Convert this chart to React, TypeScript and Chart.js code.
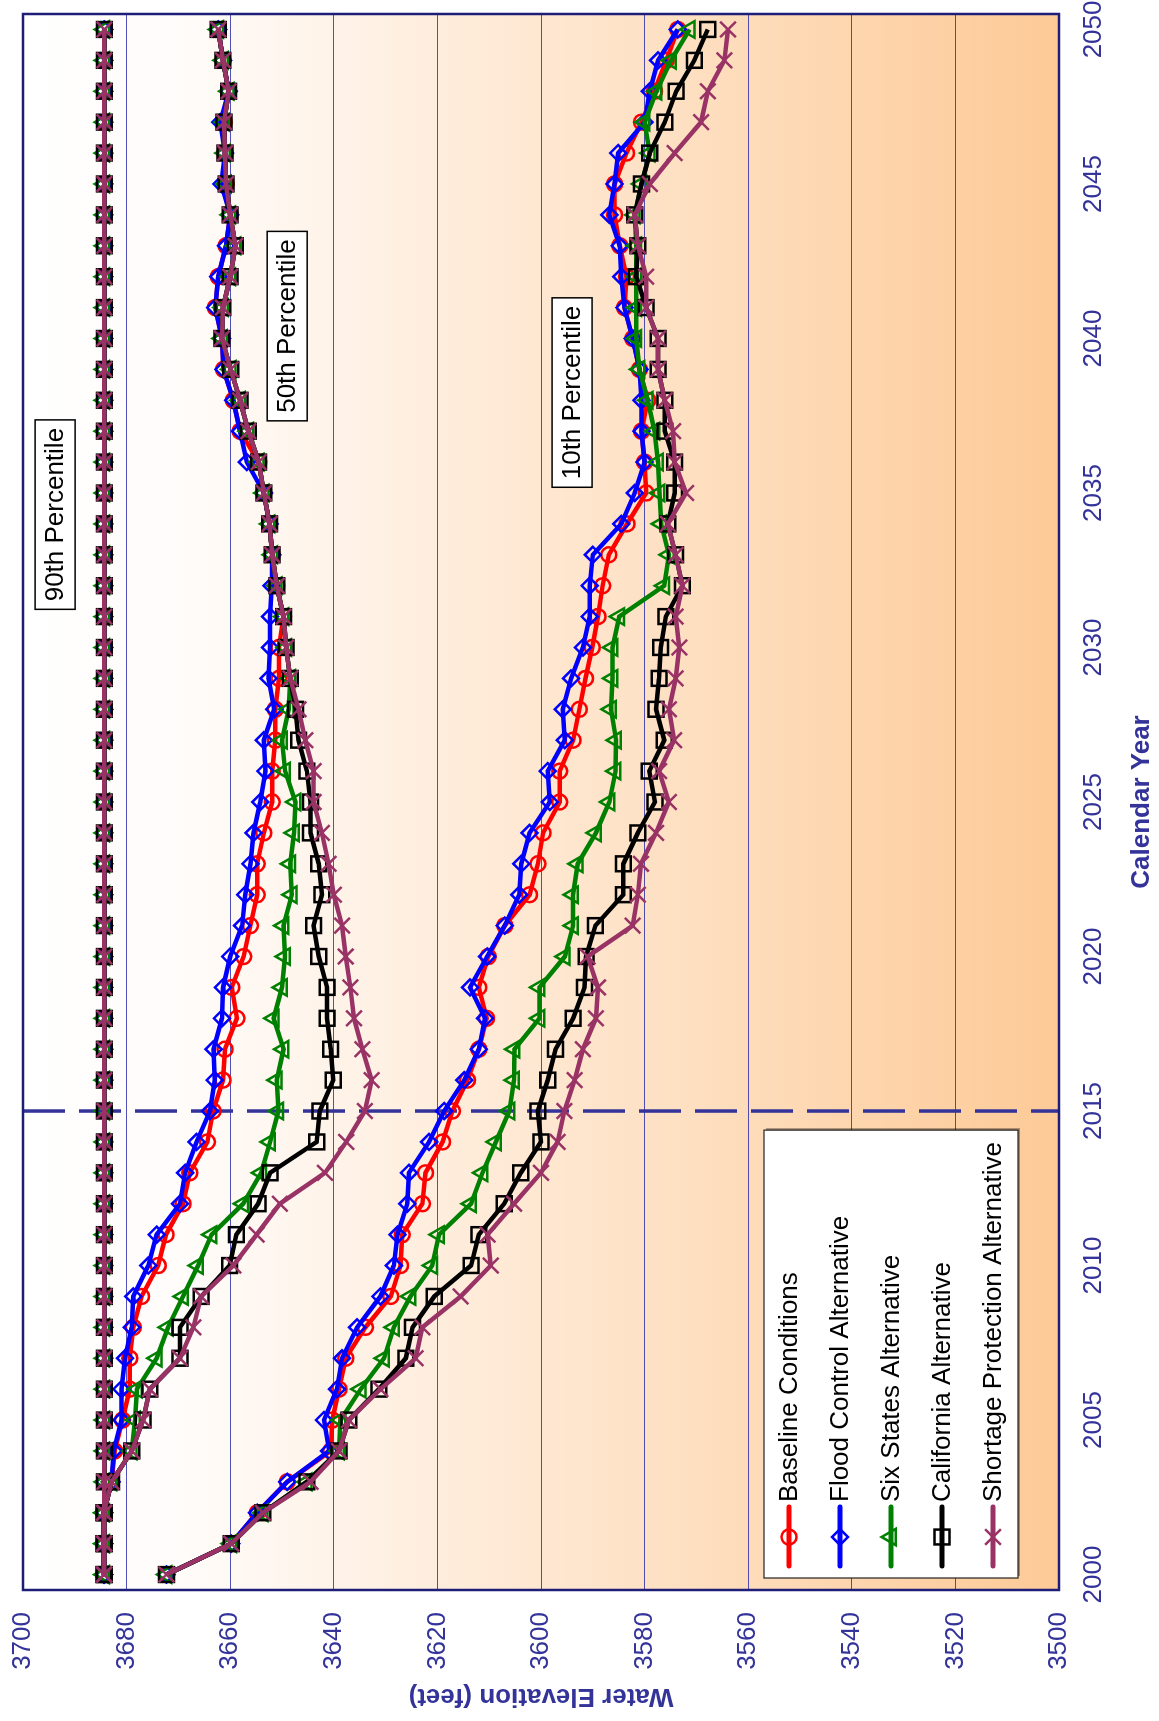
import { useEffect, useRef } from 'react';
import Chart from 'chart.js/auto';

// ---------------- DATA ----------------
const years = [
  2000, 2001, 2002, 2003, 2004, 2005, 2006, 2007, 2008, 2009,
  2010, 2011, 2012, 2013, 2014, 2015, 2016, 2017, 2018, 2019,
  2020, 2021, 2022, 2023, 2024, 2025, 2026, 2027, 2028, 2029,
  2030, 2031, 2032, 2033, 2034, 2035, 2036, 2037, 2038, 2039,
  2040, 2041, 2042, 2043, 2044, 2045, 2046, 2047, 2048, 2049, 2050,
];
const xTickYears = [2000, 2005, 2010, 2015, 2020, 2025, 2030, 2035, 2040, 2045, 2050];
const yTickValues = [3500, 3520, 3540, 3560, 3580, 3600, 3620, 3640, 3660, 3680, 3700];
const seriesNames = [
  'Baseline Conditions',
  'Flood Control Alternative',
  'Six States Alternative',
  'California Alternative',
  'Shortage Protection Alternative',
];
const percentileLabels = ['90th Percentile', '50th Percentile', '10th Percentile'];
const xAxisTitle = 'Calendar Year';
const yAxisTitle = 'Water Elevation (feet)';
const dividerYear = 2015;

// 90th percentile (identical for all alternatives)
const p90Elevation = [
  3684.3, 3684.3, 3684.3, 3684.3, 3684.3, 3684.3, 3684.3, 3684.3, 3684.3, 3684.3,
  3684.3, 3684.3, 3684.3, 3684.3, 3684.3, 3684.3, 3684.3, 3684.3, 3684.3, 3684.3,
  3684.3, 3684.3, 3684.3, 3684.3, 3684.3, 3684.3, 3684.3, 3684.3, 3684.3, 3684.3,
  3684.3, 3684.3, 3684.3, 3684.3, 3684.3, 3684.3, 3684.3, 3684.3, 3684.3, 3684.3,
  3684.3, 3684.3, 3684.3, 3684.3, 3684.3, 3684.3, 3684.3, 3684.3, 3684.3, 3684.3, 3684.3,
];

// 50th percentile
const baseline50 = [
  3684.4, 3684.4, 3684.4, 3682.9, 3682.3, 3680.8, 3679.4, 3679.4, 3678.7, 3677.1,
  3673.9, 3672.4, 3669.1, 3667.8, 3664.4, 3663.3, 3661.4, 3661.0, 3658.7, 3659.7,
  3657.4, 3656.1, 3654.8, 3654.8, 3653.5, 3651.9, 3651.9, 3651.3, 3651.3, 3650.6,
  3650.6, 3649.7, 3651.0, 3651.9, 3652.4, 3653.5, 3654.5, 3658.1, 3659.4, 3661.3,
  3661.6, 3662.9, 3662.3, 3660.8, 3660.0, 3660.8, 3661.0, 3661.2, 3660.3, 3661.4, 3662.3,
];
const flood50 = [
  3684.4, 3684.4, 3684.4, 3682.9, 3682.5, 3681.0, 3681.0, 3680.3, 3679.0, 3678.7,
  3675.8, 3674.2, 3669.7, 3668.7, 3666.5, 3663.9, 3663.0, 3663.2, 3661.6, 3661.4,
  3660.0, 3657.7, 3657.1, 3656.1, 3655.5, 3654.2, 3653.2, 3653.5, 3651.5, 3652.6,
  3652.3, 3652.3, 3652.0, 3651.9, 3652.4, 3653.5, 3656.8, 3658.1, 3659.4, 3661.3,
  3661.6, 3662.9, 3662.3, 3660.8, 3660.0, 3661.7, 3661.0, 3661.9, 3660.3, 3661.4, 3662.3,
];
const sixStates50 = [
  3684.4, 3684.4, 3684.4, 3682.9, 3679.0, 3678.4, 3678.0, 3674.2, 3672.0, 3669.1,
  3666.2, 3663.6, 3657.5, 3654.0, 3652.3, 3650.7, 3651.0, 3649.7, 3651.6, 3650.0,
  3649.4, 3649.7, 3648.1, 3648.4, 3647.7, 3647.4, 3649.4, 3650.0, 3648.7, 3648.4,
  3649.2, 3649.7, 3651.0, 3651.9, 3652.4, 3653.5, 3654.5, 3656.5, 3658.1, 3659.9,
  3661.6, 3661.4, 3660.0, 3659.0, 3660.0, 3660.8, 3661.0, 3661.2, 3660.3, 3661.4, 3662.3,
];
const california50 = [
  3684.4, 3684.4, 3684.4, 3682.9, 3679.0, 3676.8, 3675.5, 3669.7, 3669.7, 3665.6,
  3660.1, 3658.8, 3654.6, 3652.3, 3643.3, 3642.7, 3640.1, 3640.6, 3641.3, 3641.3,
  3642.9, 3643.9, 3642.3, 3642.9, 3644.5, 3644.5, 3645.2, 3646.8, 3647.4, 3648.4,
  3649.2, 3649.7, 3651.0, 3651.9, 3652.4, 3653.5, 3654.5, 3656.5, 3658.1, 3659.9,
  3661.6, 3661.4, 3660.0, 3659.0, 3660.0, 3660.8, 3661.0, 3661.2, 3660.3, 3661.4, 3662.3,
];
const shortage50 = [
  3684.4, 3684.4, 3684.4, 3682.9, 3679.0, 3676.8, 3675.5, 3669.7, 3667.1, 3665.6,
  3659.4, 3654.9, 3650.4, 3641.7, 3637.6, 3634.0, 3632.7, 3634.5, 3636.1, 3636.8,
  3637.7, 3638.4, 3640.0, 3641.0, 3642.3, 3643.9, 3643.9, 3645.5, 3646.8, 3648.4,
  3649.2, 3649.7, 3651.0, 3651.9, 3652.4, 3653.5, 3654.5, 3656.5, 3658.1, 3659.9,
  3661.6, 3661.4, 3660.0, 3659.0, 3660.0, 3660.8, 3661.0, 3661.2, 3660.3, 3661.4, 3662.3,
];

// 10th percentile
const baseline10 = [
  3672.3, 3659.8, 3654.8, 3649.0, 3640.6, 3640.3, 3639.0, 3637.7, 3633.9, 3629.0,
  3627.1, 3626.8, 3622.9, 3622.3, 3619.0, 3617.1, 3614.2, 3612.0, 3610.5, 3612.0,
  3610.2, 3607.0, 3602.2, 3600.6, 3599.6, 3596.4, 3596.4, 3593.8, 3592.6, 3591.4,
  3590.1, 3589.0, 3588.1, 3586.9, 3583.4, 3579.7, 3580.0, 3580.6, 3579.4, 3581.0,
  3582.3, 3583.9, 3583.5, 3584.8, 3585.8, 3585.8, 3583.5, 3580.6, 3578.1, 3575.8, 3573.6,
];
const flood10 = [
  3672.3, 3659.8, 3654.8, 3649.0, 3640.9, 3641.9, 3639.4, 3638.4, 3635.5, 3631.0,
  3628.4, 3627.7, 3625.8, 3625.5, 3621.6, 3618.7, 3614.8, 3612.0, 3610.8, 3613.7,
  3610.4, 3607.0, 3604.2, 3603.8, 3602.2, 3598.3, 3598.7, 3595.4, 3595.8, 3594.2,
  3591.9, 3590.6, 3590.6, 3590.0, 3584.5, 3581.9, 3580.0, 3580.6, 3580.6, 3581.0,
  3582.3, 3583.9, 3584.5, 3584.8, 3586.8, 3585.8, 3585.1, 3580.0, 3579.0, 3577.4, 3573.6,
];
const sixStates10 = [
  3672.3, 3659.8, 3653.7, 3645.2, 3639.0, 3638.7, 3634.8, 3630.3, 3628.4, 3625.2,
  3621.0, 3619.7, 3613.5, 3611.3, 3608.7, 3606.1, 3605.2, 3605.1, 3600.3, 3600.3,
  3595.4, 3593.8, 3593.8, 3592.9, 3589.4, 3586.8, 3585.6, 3585.5, 3586.5, 3586.2,
  3586.2, 3584.9, 3576.2, 3575.3, 3576.8, 3577.1, 3577.4, 3578.1, 3579.4, 3581.0,
  3581.6, 3581.6, 3581.6, 3581.6, 3581.9, 3580.6, 3579.0, 3580.0, 3577.7, 3574.9, 3571.3,
];
const california10 = [
  3672.3, 3659.8, 3653.7, 3645.2, 3639.0, 3637.1, 3631.3, 3626.1, 3624.8, 3620.6,
  3613.5, 3612.0, 3607.1, 3603.9, 3600.0, 3600.6, 3598.7, 3597.2, 3593.8, 3591.6,
  3591.3, 3589.5, 3584.1, 3584.1, 3581.3, 3578.0, 3579.1, 3576.2, 3577.8, 3577.2,
  3576.9, 3575.9, 3572.7, 3574.0, 3575.5, 3574.2, 3574.2, 3576.1, 3576.1, 3577.4,
  3577.4, 3579.7, 3581.6, 3581.3, 3581.9, 3580.6, 3579.0, 3576.1, 3573.9, 3570.4, 3567.8,
];
const shortage10 = [
  3672.3, 3659.8, 3653.7, 3644.5, 3639.0, 3637.1, 3631.0, 3624.2, 3622.9, 3615.5,
  3609.7, 3610.3, 3605.2, 3600.0, 3596.8, 3595.5, 3593.5, 3591.9, 3589.4, 3589.0,
  3591.0, 3582.3, 3581.3, 3580.7, 3577.8, 3575.3, 3577.2, 3574.3, 3575.3, 3574.0,
  3573.3, 3574.0, 3572.7, 3574.0, 3575.5, 3572.0, 3574.2, 3574.5, 3576.1, 3577.4,
  3577.4, 3579.7, 3579.7, 3581.3, 3581.9, 3579.0, 3574.2, 3569.1, 3567.8, 3564.6, 3563.9,
];

// ---------------- STYLE ----------------
const FONT = 'Arial, "Liberation Sans", Helvetica, sans-serif';
const AXIS_COLOR = '#333399';
const W = 1721; // unrotated chart width
const H = 1159; // unrotated chart height

type SeriesStyle = { color: string; pointStyle: string; radius: number };
const seriesStyles: SeriesStyle[] = [
  { color: '#ff0000', pointStyle: 'circle', radius: 7.5 },
  { color: '#0000ff', pointStyle: 'rectRot', radius: 8 },
  { color: '#008000', pointStyle: 'triangle', radius: 9.5 },
  { color: '#000000', pointStyle: 'rect', radius: 10.5 },
  { color: '#993366', pointStyle: 'crossRot', radius: 11 },
];

const seriesData = [
  [baseline10, baseline50, p90Elevation],
  [flood10, flood50, p90Elevation],
  [sixStates10, sixStates50, p90Elevation],
  [california10, california50, p90Elevation],
  [shortage10, shortage50, p90Elevation],
];

// label anchor positions in data units (year, elevation) - order matches percentileLabels
const labelAnchors = [
  { x: 2034.3, y: 3693.8 },
  { x: 2040.4, y: 3649.0 },
  { x: 2038.25, y: 3594.0 },
];

function drawMarker(ctx: CanvasRenderingContext2D, style: string, x: number, y: number, r: number) {
  ctx.beginPath();
  if (style === 'circle') {
    ctx.arc(x, y, r, 0, Math.PI * 2);
  } else if (style === 'rectRot') {
    ctx.moveTo(x - r, y);
    ctx.lineTo(x, y - r);
    ctx.lineTo(x + r, y);
    ctx.lineTo(x, y + r);
    ctx.closePath();
  } else if (style === 'triangle') {
    let a = 0;
    ctx.moveTo(x + Math.sin(a) * r, y - Math.cos(a) * r);
    a += (2 * Math.PI) / 3;
    ctx.lineTo(x + Math.sin(a) * r, y - Math.cos(a) * r);
    a += (2 * Math.PI) / 3;
    ctx.lineTo(x + Math.sin(a) * r, y - Math.cos(a) * r);
    ctx.closePath();
  } else if (style === 'rect') {
    const s = Math.SQRT1_2 * r;
    ctx.rect(x - s, y - s, 2 * s, 2 * s);
  } else if (style === 'crossRot') {
    const o = Math.SQRT1_2 * r;
    ctx.moveTo(x - o, y - o);
    ctx.lineTo(x + o, y + o);
    ctx.moveTo(x + o, y - o);
    ctx.lineTo(x - o, y + o);
  }
  ctx.stroke();
}

const zeroPadding = (s: any) => {
  s.paddingTop = 0;
  s.paddingBottom = 0;
  s.paddingLeft = 0;
  s.paddingRight = 0;
};

const decorPlugin = {
  id: 'decor',
  beforeDraw(chart: any) {
    const { ctx, chartArea: a } = chart;
    ctx.save();
    const g = ctx.createLinearGradient(0, a.top, 0, a.bottom);
    g.addColorStop(0, '#ffffff');
    g.addColorStop(0.15, '#fffcfa');
    g.addColorStop(1, '#fdca97');
    ctx.fillStyle = g;
    ctx.fillRect(a.left, a.top, a.right - a.left, a.bottom - a.top);
    ctx.restore();
  },
  beforeDatasetsDraw(chart: any) {
    const { ctx, chartArea: a, scales } = chart;
    const px = scales.x.getPixelForValue(dividerYear);
    ctx.save();
    ctx.strokeStyle = '#333399';
    ctx.lineWidth = 3.5;
    ctx.setLineDash([42, 14]);
    ctx.beginPath();
    ctx.moveTo(px, a.top);
    ctx.lineTo(px, a.bottom);
    ctx.stroke();
    ctx.restore();
  },
  afterDatasetsDraw(chart: any) {
    const { ctx, chartArea: a, scales } = chart;
    ctx.save();
    ctx.font = `26px ${FONT}`;
    ctx.textBaseline = 'middle';
    // percentile boxes
    percentileLabels.forEach((txt, i) => {
      const cx = scales.x.getPixelForValue(labelAnchors[i].x);
      const cy = scales.y.getPixelForValue(labelAnchors[i].y);
      const tw = ctx.measureText(txt).width;
      const bw = tw + 16;
      const bh = 40;
      ctx.fillStyle = '#ffffff';
      ctx.fillRect(cx - bw / 2, cy - bh / 2, bw, bh);
      ctx.strokeStyle = '#000000';
      ctx.lineWidth = 1.5;
      ctx.strokeRect(cx - bw / 2, cy - bh / 2, bw, bh);
      ctx.fillStyle = '#000000';
      ctx.textAlign = 'center';
      ctx.fillText(txt, cx, cy + 1);
    });
    // legend
    const rowH = 51;
    const boxH = rowH * seriesNames.length - 1;
    const left = a.left + 12;
    const top = a.bottom - 41 - boxH;
    let maxW = 0;
    seriesNames.forEach((n) => (maxW = Math.max(maxW, ctx.measureText(n).width)));
    const boxW = 76 + maxW + 12;
    ctx.fillStyle = 'rgba(0,0,0,0.35)';
    ctx.fillRect(left + 2, top + 2, boxW, boxH);
    ctx.fillStyle = '#ffffff';
    ctx.fillRect(left, top, boxW, boxH);
    ctx.strokeStyle = '#222222';
    ctx.lineWidth = 1.2;
    ctx.strokeRect(left, top, boxW, boxH);
    ctx.textAlign = 'left';
    seriesNames.forEach((name, i) => {
      const st = seriesStyles[i];
      const y = top + 25 + i * rowH;
      ctx.strokeStyle = st.color;
      ctx.lineWidth = 5;
      ctx.lineCap = 'round';
      ctx.beginPath();
      ctx.moveTo(left + 12, y);
      ctx.lineTo(left + 71, y);
      ctx.stroke();
      ctx.lineCap = 'butt';
      ctx.lineWidth = 2.5;
      drawMarker(ctx, st.pointStyle, left + 41, y, st.radius);
      ctx.fillStyle = '#000000';
      ctx.fillText(name, left + 76, y + 1);
    });
    ctx.restore();
  },
  afterDraw(chart: any) {
    const { ctx, chartArea: a } = chart;
    ctx.save();
    ctx.strokeStyle = '#1e1e78';
    ctx.lineWidth = 2.5;
    ctx.strokeRect(a.left, a.top, a.right - a.left, a.bottom - a.top);
    ctx.restore();
  },
};

export default function App() {
  const canvasRef = useRef<HTMLCanvasElement>(null);

  useEffect(() => {
    if (!canvasRef.current) return;
    const datasets: any[] = [];
    seriesData.forEach((sets, i) => {
      const st = seriesStyles[i];
      sets.forEach((arr) => {
        datasets.push({
          label: seriesNames[i],
          data: years.map((yr, k) => ({ x: yr, y: arr[k] })),
          borderColor: st.color,
          backgroundColor: st.color,
          borderWidth: 4.5,
          pointStyle: st.pointStyle,
          pointRadius: st.radius,
          pointBorderColor: st.color,
          pointBackgroundColor: 'rgba(0,0,0,0)',
          pointBorderWidth: 2.5,
          fill: false,
          tension: 0,
          order: seriesStyles.length - i,
        });
      });
    });

    const chart = new Chart(canvasRef.current, {
      type: 'line',
      data: { datasets },
      options: {
        responsive: false,
        animation: false,
        devicePixelRatio: 1,
        events: [],
        layout: { padding: { left: 0, top: 23, right: 14, bottom: 0 } },
        plugins: { legend: { display: false }, tooltip: { enabled: false } },
        scales: {
          x: {
            type: 'linear',
            min: 1999.5,
            max: 2050.5,
            afterBuildTicks: (s: any) => {
              s.ticks = xTickYears.map((v) => ({ value: v }));
            },
            afterFit: (s: any) => {
              s.height = 100;
              zeroPadding(s);
            },
            grid: { display: false, drawTicks: false },
            border: { display: false },
            ticks: {
              font: { family: FONT, size: 26 },
              color: AXIS_COLOR,
              padding: 19,
              maxRotation: 0,
              minRotation: 0,
              autoSkip: false,
              callback: (v: any) => String(v),
            },
            title: {
              display: true,
              text: xAxisTitle,
              color: AXIS_COLOR,
              font: { family: FONT, size: 26, weight: 'bold' },
              padding: { top: 0, bottom: 2 },
            },
          },
          y: {
            type: 'linear',
            min: 3500,
            max: 3700,
            afterBuildTicks: (s: any) => {
              s.ticks = yTickValues.map((v) => ({ value: v }));
            },
            afterFit: (s: any) => {
              s.width = 131;
              zeroPadding(s);
            },
            grid: { color: 'rgba(50,50,170,0.85)', lineWidth: 1, drawTicks: false },
            border: { display: false },
            ticks: {
              font: { family: FONT, size: 26 },
              color: AXIS_COLOR,
              padding: 22,
              callback: (v: any) => String(v),
            },
            title: {
              display: true,
              text: yAxisTitle,
              color: AXIS_COLOR,
              font: { family: FONT, size: 26, weight: 'bold' },
              padding: { top: 9, bottom: 0 },
            },
          },
        },
      } as any,
      plugins: [decorPlugin as any],
    });
    return () => chart.destroy();
  }, []);

  return (
    <div
      style={{
        position: 'absolute',
        left: 0,
        top: 0,
        width: H,
        height: W,
        overflow: 'hidden',
        background: '#ffffff',
      }}
    >
      <div
        style={{
          position: 'absolute',
          left: 0,
          top: 0,
          width: W,
          height: H,
          transformOrigin: '0 0',
          transform: `translate(0px, ${W}px) rotate(-90deg)`,
        }}
      >
        <canvas ref={canvasRef} width={W} height={H} style={{ display: 'block', width: W, height: H }} />
      </div>
    </div>
  );
}
